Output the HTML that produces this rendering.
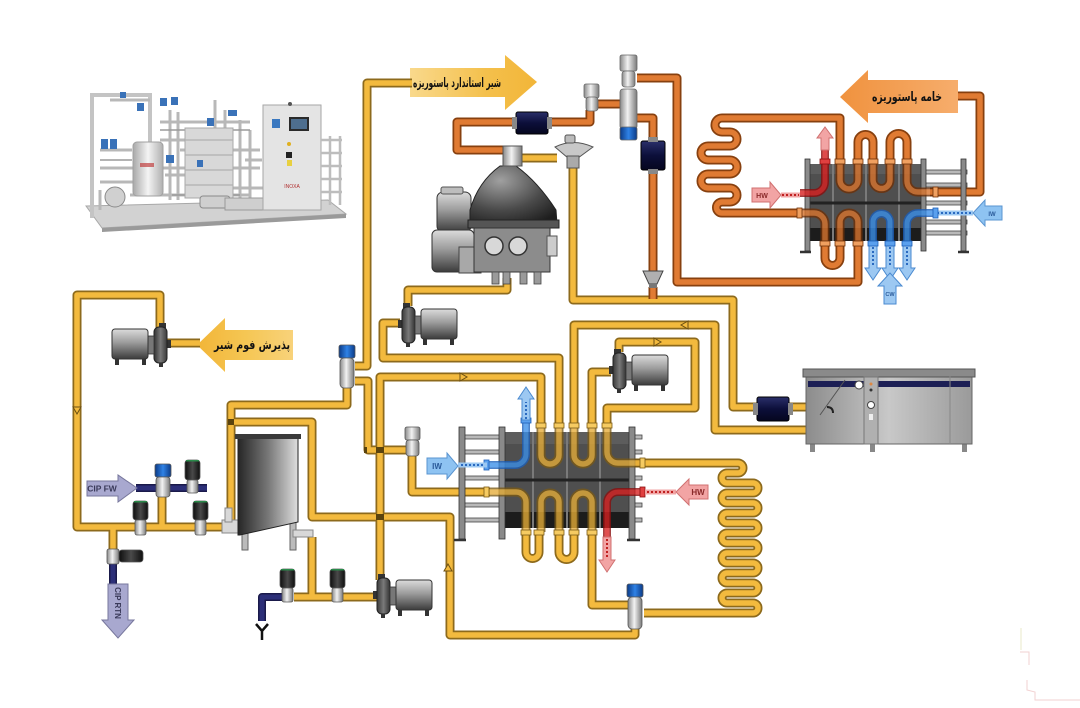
<!DOCTYPE html>
<html><head><meta charset="utf-8">
<style>
html,body{margin:0;padding:0;background:#fff;}
svg{display:block;}
</style></head>
<body>
<svg width="1080" height="708" viewBox="0 0 1080 708" xmlns="http://www.w3.org/2000/svg">
<defs>
 <linearGradient id="gMotor" x1="0" y1="0" x2="0" y2="1">
  <stop offset="0" stop-color="#dcdcdc"/><stop offset="0.45" stop-color="#9c9c9c"/><stop offset="1" stop-color="#3c3c3c"/>
 </linearGradient>
 <linearGradient id="gHead" x1="0" y1="0" x2="1" y2="0">
  <stop offset="0" stop-color="#3a3a3a"/><stop offset="0.5" stop-color="#7a7a7a"/><stop offset="1" stop-color="#333"/>
 </linearGradient>
 <linearGradient id="gTank" x1="0" y1="0" x2="1" y2="0">
  <stop offset="0" stop-color="#262626"/><stop offset="0.5" stop-color="#777"/><stop offset="1" stop-color="#dedede"/>
 </linearGradient>
 <linearGradient id="gAct" x1="0" y1="0" x2="1" y2="0">
  <stop offset="0" stop-color="#8a8a8a"/><stop offset="0.45" stop-color="#f2f2f2"/><stop offset="1" stop-color="#7a7a7a"/>
 </linearGradient>
 <linearGradient id="gBlue" x1="0" y1="0" x2="1" y2="0">
  <stop offset="0" stop-color="#0b3a86"/><stop offset="0.5" stop-color="#2f82e6"/><stop offset="1" stop-color="#0b3a86"/>
 </linearGradient>
 <linearGradient id="gBlack" x1="0" y1="0" x2="1" y2="0">
  <stop offset="0" stop-color="#0e0e0e"/><stop offset="0.5" stop-color="#4a4a4a"/><stop offset="1" stop-color="#0e0e0e"/>
 </linearGradient>
 <linearGradient id="gNavy" x1="0" y1="0" x2="0" y2="1">
  <stop offset="0" stop-color="#2a2f6a"/><stop offset="0.5" stop-color="#0c0f3a"/><stop offset="1" stop-color="#05061e"/>
 </linearGradient>
 <radialGradient id="gBowl" cx="0.35" cy="0.25" r="0.85">
  <stop offset="0" stop-color="#a0a0a0"/><stop offset="0.6" stop-color="#4a4a4a"/><stop offset="1" stop-color="#1e1e1e"/>
 </radialGradient>
 <linearGradient id="gCool" x1="0" y1="0" x2="1" y2="0">
  <stop offset="0" stop-color="#8c8c8c"/><stop offset="0.5" stop-color="#c8c8c8"/><stop offset="1" stop-color="#9a9a9a"/>
 </linearGradient>
 <linearGradient id="gY1" x1="0" y1="0" x2="1" y2="0">
  <stop offset="0" stop-color="#f9d98c"/><stop offset="0.6" stop-color="#f4c04c"/><stop offset="1" stop-color="#f2b538"/>
 </linearGradient>
 <linearGradient id="gY2" x1="0" y1="0" x2="1" y2="0">
  <stop offset="0" stop-color="#f2b538"/><stop offset="0.5" stop-color="#f5c653"/><stop offset="1" stop-color="#f8d27a"/>
 </linearGradient>
 <linearGradient id="gO" x1="0" y1="0" x2="1" y2="0">
  <stop offset="0" stop-color="#f0923e"/><stop offset="1" stop-color="#f6ad6c"/>
 </linearGradient>
 <linearGradient id="gSil" x1="0" y1="0" x2="1" y2="0">
  <stop offset="0" stop-color="#a8a8a8"/><stop offset="0.5" stop-color="#f4f4f4"/><stop offset="1" stop-color="#b0b0b0"/>
 </linearGradient>

 <g id="pump">
  <rect x="-4" y="13" width="5" height="8" fill="#333"/>
  <rect x="1" y="-4" width="7" height="5" fill="#333"/>
  <rect x="0" y="0" width="13" height="36" rx="5" fill="url(#gHead)" stroke="#222" stroke-width="1"/>
  <rect x="13" y="9" width="6" height="18" fill="#777" stroke="#333" stroke-width=".8"/>
  <rect x="19" y="2" width="36" height="30" rx="3" fill="url(#gMotor)" stroke="#333" stroke-width="1"/>
  <rect x="21" y="32" width="4" height="6" fill="#333"/>
  <rect x="48" y="32" width="4" height="6" fill="#333"/>
  <rect x="4" y="36" width="4" height="4" fill="#333"/>
 </g>
</defs>

<!-- ============ TOP-LEFT PHOTO ============ -->
<g>
 <polygon points="86,206 328,200 346,214 102,228" fill="#d2d2d2" stroke="#a8a8a8" stroke-width="1"/>
 <polygon points="102,228 346,214 346,218 102,232" fill="#9a9a9a"/>
 <rect x="90" y="94" width="4" height="124" fill="#c4c4c4"/>
 <rect x="90" y="93" width="62" height="4" fill="#c4c4c4"/>
 <rect x="148" y="93" width="4" height="50" fill="#c4c4c4"/>
 <g stroke="#b8b8b8" stroke-width="3" fill="none">
  <path d="M100,168 H260"/><path d="M100,182 H140"/><path d="M160,122 H250"/><path d="M170,110 V200"/>
  <path d="M180,150 H260"/><path d="M240,120 V200"/><path d="M250,130 V205"/><path d="M200,188 H265"/>
  <path d="M110,100 H150"/><path d="M215,100 V130"/><path d="M130,195 H250"/>
  <path d="M100,150 H132"/><path d="M178,112 V200"/><path d="M160,140 H185"/><path d="M245,160 H262"/>
  <path d="M100,190 V210"/><path d="M225,110 V200"/><path d="M165,175 H185"/>
 </g>
 <g stroke="#9a9a9a" stroke-width="1.5" fill="none">
  <path d="M160,130 H250"/><path d="M100,160 H132"/><path d="M172,195 H240"/>
 </g>
 <rect x="133" y="142" width="30" height="54" rx="4" fill="url(#gSil)" stroke="#a0a0a0"/>
 <rect x="140" y="163" width="14" height="4" fill="#c04040" opacity=".7"/>
 <rect x="185" y="128" width="48" height="70" fill="#d8d8d8" stroke="#a8a8a8"/>
 <g stroke="#b0b0b0" stroke-width="1.2"><path d="M185,140 H233"/><path d="M185,155 H233"/><path d="M185,170 H233"/><path d="M185,185 H233"/></g>
 <rect x="200" y="196" width="30" height="12" rx="3" fill="#cfcfcf" stroke="#8a8a8a"/>
 <g fill="#3a72b8">
  <rect x="101" y="139" width="7" height="10"/><rect x="110" y="139" width="7" height="10"/>
  <rect x="137" y="103" width="7" height="8"/><rect x="160" y="98" width="7" height="8"/><rect x="171" y="97" width="7" height="8"/>
  <rect x="207" y="118" width="7" height="8"/><rect x="228" y="110" width="9" height="6"/><rect x="166" y="155" width="8" height="8"/>
  <rect x="120" y="92" width="6" height="6"/><rect x="197" y="160" width="6" height="7"/>
 </g>
 <circle cx="115" cy="197" r="10" fill="#d0d0d0" stroke="#8a8a8a"/>
 <rect x="225" y="198" width="40" height="12" fill="#cfcfcf" stroke="#999"/>
 <rect x="263" y="105" width="58" height="105" fill="#e4e4e4" stroke="#a6a6a6"/>
 <rect x="289" y="117" width="20" height="14" fill="#2a2a2a"/>
 <rect x="291" y="119" width="16" height="10" fill="#4e6e8e"/>
 <rect x="272" y="119" width="8" height="9" fill="#3a78c0"/>
 <circle cx="290" cy="104" r="2" fill="#555"/>
 <circle cx="289" cy="144" r="2" fill="#e0b020"/>
 <rect x="286" y="152" width="6" height="6" fill="#222"/>
 <rect x="287" y="160" width="5" height="6" fill="#e8d040"/>
 <text x="292" y="188" font-family="Liberation Sans, sans-serif" font-size="5" fill="#b03030" text-anchor="middle">INOXA</text>
 <g stroke="#bdbdbd" stroke-width="2.5"><path d="M321,140 H342"/><path d="M321,153 H342"/><path d="M321,166 H342"/><path d="M321,179 H342"/><path d="M321,192 H342"/><path d="M330,136 V205"/><path d="M340,136 V205"/></g>
</g>

<!-- ============ ARROW LABELS ============ -->
<path d="M410,68 H505 V55 L537,82 L505,110 V97 H410 Z" fill="url(#gY1)"/>
<text x="457" y="87" font-family="DejaVu Sans, sans-serif" font-weight="bold" font-size="13" text-anchor="middle" direction="rtl" textLength="88" lengthAdjust="spacingAndGlyphs" fill="#111">شیر استاندارد پاستوریزه</text>

<path d="M840,97 L868,70 V80 H958 V113 H868 V123 Z" fill="url(#gO)"/>
<text x="907" y="101" font-family="DejaVu Sans, sans-serif" font-weight="bold" font-size="13" text-anchor="middle" direction="rtl" textLength="70" lengthAdjust="spacingAndGlyphs" fill="#111">خامه پاستوریزه</text>

<path d="M197,345 L225,318 V330 H293 V360 H225 V372 Z" fill="url(#gY2)"/>
<text x="252" y="349" font-family="DejaVu Sans, sans-serif" font-weight="bold" font-size="12.5" text-anchor="middle" direction="rtl" textLength="76" lengthAdjust="spacingAndGlyphs" fill="#111">پذیرش فوم شیر</text>

<!-- ============ PIPES ============ -->
<g fill="none" stroke-linejoin="round">
 <g stroke="#1a1a4a" stroke-width="8">
  <path d="M136,488 H207"/><path d="M113,562 V586"/><path d="M287,597 H262 V621"/>
 </g>
 <g stroke="#2c2f78" stroke-width="5">
  <path d="M136,488 H207"/><path d="M113,562 V586"/><path d="M287,597 H262 V621"/>
 </g>

 <g stroke="#8d6a1c" stroke-width="9">
  <path d="M160,328 V295 H77 V527 H224"/>
  <path d="M167,343 H200"/>
  <path d="M113,527 V550"/>
  <path d="M162,497 V527"/>
  <path d="M231,527 V405 H347 V388"/>
  <path d="M231,422 H312 V517 H450 V635 H635 V628"/>
  <path d="M412,83 H367 V366 H355"/>
  <path d="M355,381 H368 V450 H406"/>
  <path d="M380,580 V377 H541 V428"/>
  <path d="M412,456 V492 H490"/>
  <path d="M507,278 V290 H408 V306"/>
  <path d="M400,323 H383 V358 H559 V428"/>
  <path d="M520,158 H557"/>
  <path d="M573,167 V300 H733 V407 H827"/>
  <path d="M574,428 V325 H715 V430 H820 V418"/>
  <path d="M619,352 V342 H695 V408 H607 V428"/>
  <path d="M611,372 H592 V428"/>
  <path d="M632,463 H738 A5 5 0 0 1 738,473 H727 A5 5 0 0 0 727,483 H753 A5 5 0 0 1 753,493 H727 A5 5 0 0 0 727,503 H753 A5 5 0 0 1 753,513 H727 A5 5 0 0 0 727,523 H753 A5 5 0 0 1 753,533 H727 A5 5 0 0 0 727,543 H753 A5 5 0 0 1 753,553 H727 A5 5 0 0 0 727,563 H753 A5 5 0 0 1 753,573 H727 A5 5 0 0 0 727,583 H753 A5 5 0 0 1 753,593 H727 A5 5 0 0 0 727,603 H753 A5 5 0 0 1 753,613 H644"/>
  <path d="M592,530 V605 H628"/>
  <path d="M312,537 V597"/><path d="M294,597 H378"/>
  <path d="M526,530 V552 A6.5 6.5 0 0 0 539,552 V530"/>
  <path d="M559,530 V552 A7.5 7.5 0 0 0 574,552 V530"/>
 </g>
 <g stroke="#f3ba3e" stroke-width="5.5">
  <path d="M160,328 V295 H77 V527 H224"/>
  <path d="M167,343 H200"/>
  <path d="M113,527 V550"/>
  <path d="M162,497 V527"/>
  <path d="M231,527 V405 H347 V388"/>
  <path d="M231,422 H312 V517 H450 V635 H635 V628"/>
  <path d="M412,83 H367 V366 H355"/>
  <path d="M355,381 H368 V450 H406"/>
  <path d="M380,580 V377 H541 V428"/>
  <path d="M412,456 V492 H490"/>
  <path d="M507,278 V290 H408 V306"/>
  <path d="M400,323 H383 V358 H559 V428"/>
  <path d="M520,158 H557"/>
  <path d="M573,167 V300 H733 V407 H827"/>
  <path d="M574,428 V325 H715 V430 H820 V418"/>
  <path d="M619,352 V342 H695 V408 H607 V428"/>
  <path d="M611,372 H592 V428"/>
  <path d="M632,463 H738 A5 5 0 0 1 738,473 H727 A5 5 0 0 0 727,483 H753 A5 5 0 0 1 753,493 H727 A5 5 0 0 0 727,503 H753 A5 5 0 0 1 753,513 H727 A5 5 0 0 0 727,523 H753 A5 5 0 0 1 753,533 H727 A5 5 0 0 0 727,543 H753 A5 5 0 0 1 753,553 H727 A5 5 0 0 0 727,563 H753 A5 5 0 0 1 753,573 H727 A5 5 0 0 0 727,583 H753 A5 5 0 0 1 753,593 H727 A5 5 0 0 0 727,603 H753 A5 5 0 0 1 753,613 H644"/>
  <path d="M592,530 V605 H628"/>
  <path d="M312,537 V597"/><path d="M294,597 H378"/>
  <path d="M526,530 V552 A6.5 6.5 0 0 0 539,552 V530"/>
  <path d="M559,530 V552 A7.5 7.5 0 0 0 574,552 V530"/>
 </g>

 <g stroke="#87400f" stroke-width="9">
  <path d="M513,122 H457 V150 H503"/>
  <path d="M550,122 H590 V110"/>
  <path d="M598,104 H620"/>
  <path d="M637,78 H677 V282 H858 V242"/>
  <path d="M637,118 H653 V272"/><path d="M653,287 V299"/>
  <path d="M840,168 V118 H722 A7 7 0 0 0 722,132 H730 A7 7 0 0 1 730,146 H708 A7 7 0 0 0 708,160 H730 A7 7 0 0 1 730,174 H708 A7 7 0 0 0 708,188 H730 A7 7 0 0 1 730,202 H722 A5.5 5.5 0 0 0 722,213 H800"/>
  <path d="M958,96 H980 V192 H930"/>
  <path d="M858,168 V142 A7.5 7.5 0 0 1 873,142 V168"/>
  <path d="M890,168 V142 A8.5 8.5 0 0 1 907,142 V168"/>
  <path d="M825,242 V258 A7.5 7.5 0 0 0 840,258 V242"/>
 </g>
 <g stroke="#e07b33" stroke-width="5.5">
  <path d="M513,122 H457 V150 H503"/>
  <path d="M550,122 H590 V110"/>
  <path d="M598,104 H620"/>
  <path d="M637,78 H677 V282 H858 V242"/>
  <path d="M637,118 H653 V272"/><path d="M653,287 V299"/>
  <path d="M840,168 V118 H722 A7 7 0 0 0 722,132 H730 A7 7 0 0 1 730,146 H708 A7 7 0 0 0 708,160 H730 A7 7 0 0 1 730,174 H708 A7 7 0 0 0 708,188 H730 A7 7 0 0 1 730,202 H722 A5.5 5.5 0 0 0 722,213 H800"/>
  <path d="M958,96 H980 V192 H930"/>
  <path d="M858,168 V142 A7.5 7.5 0 0 1 873,142 V168"/>
  <path d="M890,168 V142 A8.5 8.5 0 0 1 907,142 V168"/>
  <path d="M825,242 V258 A7.5 7.5 0 0 0 840,258 V242"/>
 </g>
</g>

<!-- junction bands -->
<g fill="#5a430e">
 <rect x="376" y="447" width="8" height="6"/><rect x="376" y="514" width="8" height="6"/>
 <rect x="364" y="447" width="3" height="6"/><rect x="228" y="419" width="6" height="6"/>
</g>

<!-- flow markers -->
<g fill="#f3ba3e" stroke="#6b4f12" stroke-width="1">
 <path d="M460,373 L467,377 L460,381 Z"/>
 <path d="M688,321 L681,325 L688,329 Z"/>
 <path d="M654,338 L661,342 L654,346 Z"/>
 <path d="M73,407 L77,414 L81,407 Z"/>
 <path d="M444,571 L448,564 L452,571 Z"/>
</g>

<!-- ============ HX2 (middle) ============ -->
<g>
 <g fill="#b9b9b9" stroke="#444" stroke-width=".8">
  <rect x="460" y="435" width="182" height="4"/>
  <rect x="460" y="450" width="182" height="4"/>
  <rect x="460" y="476" width="182" height="4"/>
  <rect x="460" y="503" width="182" height="4"/>
  <rect x="460" y="518" width="182" height="4"/>
 </g>
 <rect x="505" y="432" width="125" height="96" fill="#4f4f4f"/>
 <rect x="505" y="432" width="125" height="12" fill="#5d5d5d"/>
 <rect x="505" y="512" width="125" height="16" fill="#1c1c1c"/>
 <g stroke="#7a7a7a" stroke-width="2"><path d="M533,432 V528"/><path d="M567,432 V528"/><path d="M600,432 V528"/></g>
 <path d="M505,480 H630" stroke="#222" stroke-width="3"/>
 <g fill="#8a8a8a" stroke="#333" stroke-width=".8">
  <rect x="459" y="427" width="6" height="112"/>
  <rect x="499" y="427" width="6" height="112"/>
  <rect x="629" y="427" width="6" height="112"/>
 </g>
 <path d="M454,540 H466 M627,540 H640" stroke="#333" stroke-width="2.5"/>
 <g fill="none" opacity=".78">
  <g stroke="#7a5a16" stroke-width="9">
   <path d="M541,428 V455 A9 9 0 0 0 559,455 V428"/>
   <path d="M574,428 V455 A9 9 0 0 0 592,455 V428"/>
   <path d="M607,428 V452 A11 11 0 0 0 618,463 H643"/>
   <path d="M487,492 H516 A10 10 0 0 1 526,502 V532"/>
   <path d="M541,532 V502 A9 9 0 0 1 559,502 V532"/>
   <path d="M574,532 V502 A9 9 0 0 1 592,502 V532"/>
  </g>
  <g stroke="#e6ad38" stroke-width="5.5">
   <path d="M541,428 V455 A9 9 0 0 0 559,455 V428"/>
   <path d="M574,428 V455 A9 9 0 0 0 592,455 V428"/>
   <path d="M607,428 V452 A11 11 0 0 0 618,463 H643"/>
   <path d="M487,492 H516 A10 10 0 0 1 526,502 V532"/>
   <path d="M541,532 V502 A9 9 0 0 1 559,502 V532"/>
   <path d="M574,532 V502 A9 9 0 0 1 592,502 V532"/>
  </g>
  <path d="M487,465 H515 A11 11 0 0 0 526,454 V420" stroke="#1d5fb8" stroke-width="8"/>
  <path d="M487,465 H515 A11 11 0 0 0 526,454 V420" stroke="#3b8fe8" stroke-width="5"/>
  <path d="M643,492 H618 A11 11 0 0 0 607,503 V537" stroke="#8a0e0e" stroke-width="8"/>
  <path d="M643,492 H618 A11 11 0 0 0 607,503 V537" stroke="#d82020" stroke-width="5"/>
 </g>
 <g fill="#f6cb62" stroke="#7a5a16" stroke-width=".8">
  <rect x="536" y="423" width="10" height="5"/><rect x="554" y="423" width="10" height="5"/><rect x="569" y="423" width="10" height="5"/><rect x="587" y="423" width="10" height="5"/><rect x="602" y="423" width="10" height="5"/>
  <rect x="521" y="530" width="10" height="5"/><rect x="534" y="530" width="10" height="5"/><rect x="554" y="530" width="10" height="5"/><rect x="569" y="530" width="10" height="5"/><rect x="587" y="530" width="10" height="5"/>
  <rect x="484" y="487" width="5" height="10"/><rect x="640" y="458" width="5" height="10"/>
 </g>
 <rect x="521" y="418" width="10" height="5" fill="#5aa0ee" stroke="#1d5fb8" stroke-width=".8"/>
 <rect x="484" y="460" width="5" height="10" fill="#5aa0ee" stroke="#1d5fb8" stroke-width=".8"/>
 <rect x="640" y="487" width="5" height="10" fill="#e04040" stroke="#8a0e0e" stroke-width=".8"/>
 <path d="M458,465 H487" stroke="#9cc8f2" stroke-width="5"/>
 <path d="M461,465 H485" stroke="#2a6ac0" stroke-width="2" stroke-dasharray="2 2"/>
 <path d="M427,458 H447 V453 L458,466 L447,479 V474 H427 Z" fill="#8ec3f2" stroke="#5a94d0"/>
 <text x="437" y="469" font-family="Liberation Sans, sans-serif" font-weight="bold" font-size="8" text-anchor="middle" fill="#2a5a9a">IW</text>
 <path d="M645,492 H676" stroke="#f0a4a4" stroke-width="5"/>
 <path d="M647,492 H674" stroke="#c02020" stroke-width="2" stroke-dasharray="2 2"/>
 <path d="M708,485 H689 V479 L676,492 L689,505 V499 H708 Z" fill="#f2a4a4" stroke="#d07070"/>
 <text x="698" y="495" font-family="Liberation Sans, sans-serif" font-weight="bold" font-size="8" text-anchor="middle" fill="#8a2a2a">HW</text>
 <path d="M522,420 V399 H518 L526,387 L534,399 H530 V420 Z" fill="#9cc8f2" stroke="#4a8ad0"/>
 <path d="M526,419 V402" stroke="#2a6ac0" stroke-width="2" stroke-dasharray="2 2"/>
 <path d="M603,537 V560 H599 L607,572 L615,560 H611 V537 Z" fill="#f2a4a4" stroke="#d07070"/>
 <path d="M607,539 V557" stroke="#c02020" stroke-width="2" stroke-dasharray="2 2"/>
</g>

<!-- ============ HX TOP-RIGHT ============ -->
<g>
 <g fill="#b9b9b9" stroke="#444" stroke-width=".8">
  <rect x="806" y="170" width="161" height="4"/>
  <rect x="806" y="183" width="161" height="4"/>
  <rect x="806" y="201" width="161" height="4"/>
  <rect x="806" y="220" width="161" height="4"/>
  <rect x="806" y="231" width="161" height="4"/>
 </g>
 <rect x="809" y="164" width="114" height="77" fill="#4f4f4f"/>
 <rect x="809" y="164" width="114" height="10" fill="#5d5d5d"/>
 <rect x="809" y="228" width="114" height="13" fill="#1c1c1c"/>
 <g stroke="#7a7a7a" stroke-width="2"><path d="M833,164 V241"/><path d="M866,164 V241"/><path d="M899,164 V241"/></g>
 <path d="M809,203 H923" stroke="#222" stroke-width="3"/>
 <g fill="#8a8a8a" stroke="#333" stroke-width=".8">
  <rect x="805" y="159" width="5" height="92"/>
  <rect x="921" y="159" width="5" height="92"/>
  <rect x="961" y="159" width="5" height="92"/>
 </g>
 <path d="M800,252 H811 M958,252 H969" stroke="#333" stroke-width="2.5"/>
 <g fill="none" opacity=".8">
  <g stroke="#6e3008" stroke-width="9">
   <path d="M840,164 V180 A9 9 0 0 0 858,180 V164"/>
   <path d="M873,164 V180 A8.5 8.5 0 0 0 890,180 V164"/>
   <path d="M907,164 V181 A11 11 0 0 0 918,192 H935"/>
   <path d="M800,213 H814 A11 11 0 0 1 825,224 V245"/>
   <path d="M840,245 V222 A9 9 0 0 1 858,222 V245"/>
  </g>
  <g stroke="#d8742e" stroke-width="5.5">
   <path d="M840,164 V180 A9 9 0 0 0 858,180 V164"/>
   <path d="M873,164 V180 A8.5 8.5 0 0 0 890,180 V164"/>
   <path d="M907,164 V181 A11 11 0 0 0 918,192 H935"/>
   <path d="M800,213 H814 A11 11 0 0 1 825,224 V245"/>
   <path d="M840,245 V222 A9 9 0 0 1 858,222 V245"/>
  </g>
  <g stroke="#1d5fb8" stroke-width="8">
   <path d="M873,245 V222 A8.5 8.5 0 0 1 890,222 V245"/>
   <path d="M935,213 H918 A11 11 0 0 0 907,224 V245"/>
  </g>
  <g stroke="#3b8fe8" stroke-width="5">
   <path d="M873,245 V222 A8.5 8.5 0 0 1 890,222 V245"/>
   <path d="M935,213 H918 A11 11 0 0 0 907,224 V245"/>
  </g>
  <path d="M800,193 H814 A11 11 0 0 0 825,182 V150" stroke="#8a0e0e" stroke-width="8"/>
  <path d="M800,193 H814 A11 11 0 0 0 825,182 V150" stroke="#d82020" stroke-width="5"/>
 </g>
 <path d="M781,195 H800" stroke="#f0a4a4" stroke-width="5"/>
 <path d="M782,195 H799" stroke="#c02020" stroke-width="2" stroke-dasharray="2 2"/>
 <path d="M752,188 H770 V182 L781,195 L770,208 V202 H752 Z" fill="#f2a4a4" stroke="#d07070"/>
 <text x="762" y="198" font-family="Liberation Sans, sans-serif" font-weight="bold" font-size="7" text-anchor="middle" fill="#8a2a2a">HW</text>
 <path d="M821,150 V138 H817 L825,127 L833,138 H829 V150 Z" fill="#f2a4a4" stroke="#d07070"/>
 <path d="M935,213 H973" stroke="#9cc8f2" stroke-width="5"/>
 <path d="M937,213 H971" stroke="#2a6ac0" stroke-width="2" stroke-dasharray="2 2"/>
 <path d="M1002,206 H985 V200 L973,213 L985,226 V220 H1002 Z" fill="#8ec3f2" stroke="#5a94d0"/>
 <text x="992" y="216" font-family="Liberation Sans, sans-serif" font-weight="bold" font-size="6" text-anchor="middle" fill="#2a5a9a">IW</text>
 <g fill="#9cc8f2" stroke="#4a8ad0">
  <path d="M869,245 V268 H865 L873,280 L881,268 H877 V245 Z"/>
  <path d="M886,245 V268 H882 L890,280 L898,268 H894 V245 Z"/>
  <path d="M903,245 V268 H899 L907,280 L915,268 H911 V245 Z"/>
  <path d="M884,304 V286 H878 L890,273 L902,286 H896 V304 Z"/>
 </g>
 <g stroke="#2a6ac0" stroke-width="2" stroke-dasharray="2 2"><path d="M873,247 V266"/><path d="M890,247 V266"/><path d="M907,247 V266"/></g>
 <text x="890" y="296" font-family="Liberation Sans, sans-serif" font-weight="bold" font-size="5.5" text-anchor="middle" fill="#2a5a9a">CW</text>
 <g fill="#f0a060" stroke="#6e3008" stroke-width=".8">
  <rect x="835" y="159" width="10" height="5"/><rect x="853" y="159" width="10" height="5"/><rect x="868" y="159" width="10" height="5"/><rect x="885" y="159" width="10" height="5"/><rect x="902" y="159" width="10" height="5"/>
  <rect x="820" y="241" width="10" height="5"/><rect x="835" y="241" width="10" height="5"/><rect x="853" y="241" width="10" height="5"/>
  <rect x="797" y="208" width="5" height="10"/><rect x="933" y="187" width="5" height="10"/>
 </g>
 <g fill="#5aa0ee" stroke="#1d5fb8" stroke-width=".8"><rect x="868" y="241" width="10" height="5"/><rect x="885" y="241" width="10" height="5"/><rect x="902" y="241" width="10" height="5"/><rect x="933" y="208" width="5" height="10"/></g>
 <rect x="820" y="159" width="10" height="5" fill="#e04040" stroke="#8a0e0e" stroke-width=".8"/>
</g>

<!-- ============ SEPARATOR ============ -->
<g>
 <rect x="437" y="192" width="34" height="40" rx="6" fill="url(#gMotor)" stroke="#333"/>
 <rect x="441" y="187" width="22" height="7" rx="2" fill="#bdbdbd" stroke="#555"/>
 <path d="M470,224 L470,210 Q478,182 500,166 L516,166 Q538,182 556,210 L557,224 Z" fill="url(#gBowl)" stroke="#222"/>
 <rect x="468" y="220" width="91" height="8" fill="#555" stroke="#222"/>
 <rect x="432" y="230" width="42" height="42" rx="5" fill="url(#gMotor)" stroke="#333"/>
 <rect x="459" y="247" width="22" height="26" fill="#a8a8a8" stroke="#444"/>
 <rect x="474" y="228" width="76" height="44" fill="#8c8c8c" stroke="#333"/>
 <circle cx="494" cy="246" r="9" fill="#d8d8d8" stroke="#333" stroke-width="1.5"/>
 <circle cx="518" cy="246" r="9" fill="#d8d8d8" stroke="#333" stroke-width="1.5"/>
 <rect x="547" y="236" width="10" height="20" fill="#ccc" stroke="#555"/>
 <g fill="#9a9a9a" stroke="#444" stroke-width=".8"><rect x="492" y="272" width="7" height="12"/><rect x="503" y="272" width="7" height="12"/><rect x="520" y="272" width="7" height="12"/><rect x="534" y="272" width="7" height="12"/></g>
 <rect x="503" y="146" width="19" height="20" fill="url(#gAct)" stroke="#555"/>
 <path d="M555,147 Q573,138 593,147 L578,158 L568,158 Z" fill="#c8c8c8" stroke="#555"/>
 <rect x="565" y="135" width="10" height="8" rx="2" fill="#bbb" stroke="#555"/>
 <rect x="567" y="156" width="12" height="12" fill="#aaa" stroke="#555"/>
</g>

<!-- filters -->
<g>
 <rect x="516" y="112" width="32" height="22" rx="2" fill="url(#gNavy)" stroke="#000"/>
 <rect x="512" y="117" width="5" height="12" fill="#888"/><rect x="547" y="117" width="5" height="12" fill="#888"/>
 <rect x="641" y="141" width="24" height="29" rx="2" fill="url(#gNavy)" stroke="#000"/>
 <rect x="648" y="137" width="10" height="5" fill="#888"/><rect x="648" y="169" width="10" height="5" fill="#888"/>
 <rect x="757" y="397" width="32" height="24" rx="2" fill="url(#gNavy)" stroke="#000"/>
 <rect x="753" y="403" width="5" height="12" fill="#888"/><rect x="788" y="403" width="5" height="12" fill="#888"/>
 <path d="M643,271 H663 L657,284 H649 Z" fill="#b0b0b0" stroke="#444"/>
 <rect x="649" y="284" width="8" height="4" fill="#777"/>
</g>

<!-- top center valves -->
<g stroke="#666" stroke-width=".8">
 <rect x="620" y="55" width="17" height="16" rx="2" fill="url(#gAct)"/>
 <rect x="622" y="71" width="13" height="16" rx="3" fill="url(#gAct)"/>
 <rect x="620" y="89" width="17" height="40" rx="3" fill="url(#gAct)"/>
 <rect x="620" y="127" width="17" height="13" rx="2" fill="url(#gBlue)"/>
 <rect x="584" y="84" width="15" height="14" rx="2" fill="url(#gAct)"/>
 <rect x="586" y="97" width="12" height="14" rx="3" fill="url(#gAct)"/>
</g>

<!-- ============ PUMPS ============ -->
<use href="#pump" transform="translate(167,327) scale(-1,1)"/>
<use href="#pump" transform="translate(402,307)"/>
<use href="#pump" transform="translate(613,353)"/>
<use href="#pump" transform="translate(377,578)"/>

<!-- ============ VALVES ============ -->
<g stroke="#555" stroke-width=".8">
 <rect x="339" y="345" width="16" height="13" rx="2" fill="url(#gBlue)"/>
 <rect x="340" y="358" width="14" height="30" rx="4" fill="url(#gAct)"/>
 <rect x="405" y="427" width="15" height="13" rx="2" fill="url(#gAct)"/>
 <rect x="406" y="440" width="13" height="16" rx="3" fill="url(#gAct)"/>
 <rect x="627" y="584" width="16" height="13" rx="2" fill="url(#gBlue)"/>
 <rect x="628" y="597" width="14" height="32" rx="4" fill="url(#gAct)"/>
 <rect x="155" y="464" width="16" height="13" rx="2" fill="url(#gBlue)"/>
 <rect x="156" y="477" width="14" height="20" rx="3" fill="url(#gAct)"/>
 <rect x="185" y="460" width="15" height="20" rx="3" fill="url(#gBlack)"/>
 <rect x="187" y="480" width="11" height="13" rx="2" fill="url(#gAct)"/>
 <rect x="133" y="501" width="15" height="19" rx="3" fill="url(#gBlack)"/>
 <rect x="135" y="520" width="11" height="15" rx="2" fill="url(#gAct)"/>
 <rect x="193" y="501" width="15" height="19" rx="3" fill="url(#gBlack)"/>
 <rect x="195" y="520" width="11" height="15" rx="2" fill="url(#gAct)"/>
 <rect x="107" y="549" width="12" height="15" rx="2" fill="url(#gAct)"/>
 <rect x="119" y="550" width="24" height="12" rx="3" fill="url(#gBlack)"/>
 <rect x="280" y="569" width="15" height="19" rx="3" fill="url(#gBlack)"/>
 <rect x="282" y="588" width="11" height="14" rx="2" fill="url(#gAct)"/>
 <rect x="330" y="569" width="15" height="19" rx="3" fill="url(#gBlack)"/>
 <rect x="332" y="588" width="11" height="14" rx="2" fill="url(#gAct)"/>
</g>
<g fill="#2a8a4a"><rect x="186" y="460" width="13" height="1.5"/><rect x="134" y="501" width="13" height="1.5"/><rect x="194" y="501" width="13" height="1.5"/><rect x="281" y="569" width="13" height="1.5"/><rect x="331" y="569" width="13" height="1.5"/></g>

<path d="M256,624 L262,631 L268,624 M262,631 V640" stroke="#111" stroke-width="2.5" fill="none"/>

<!-- CIP arrows -->
<path d="M87,481 H118 V475 L137,488 L118,502 V496 H87 Z" fill="#a8a8cf" stroke="#77779c"/>
<text x="102" y="491.5" font-family="Liberation Sans, sans-serif" font-weight="bold" font-size="8.5" text-anchor="middle" fill="#3a3a5a">CIP FW</text>
<path d="M108,584 H128 V620 H134 L118,638 L102,620 H108 Z" fill="#a8a8cf" stroke="#77779c"/>
<text x="118" y="603" transform="rotate(90 118 603)" dy="3" font-family="Liberation Sans, sans-serif" font-weight="bold" font-size="8" text-anchor="middle" fill="#3a3a5a">CIP RTN</text>

<!-- ============ TANK (left) ============ -->
<rect x="222" y="520" width="16" height="13" fill="#d8d8d8" stroke="#888"/>
<rect x="225" y="508" width="7" height="14" fill="#d8d8d8" stroke="#888"/>
<rect x="242" y="528" width="6" height="22" fill="#bbb" stroke="#666"/>
<rect x="290" y="522" width="6" height="28" fill="#bbb" stroke="#666"/>
<path d="M238,438 H298 V522 L240,535 L238,535 Z" fill="url(#gTank)" stroke="#222"/>
<rect x="235" y="434" width="66" height="5" fill="#3a3a3a"/>
<rect x="293" y="530" width="20" height="7" fill="#d8d8d8" stroke="#888"/>

<!-- ============ COOLING TANK (right) ============ -->
<g>
 <rect x="810" y="440" width="5" height="12" fill="#888"/><rect x="870" y="440" width="5" height="12" fill="#888"/><rect x="962" y="440" width="5" height="12" fill="#888"/>
 <rect x="806" y="376" width="166" height="68" fill="url(#gCool)" stroke="#666"/>
 <rect x="803" y="369" width="172" height="8" fill="#8a8a8a" stroke="#555"/>
 <rect x="808" y="381" width="162" height="6" fill="#1c1f55"/>
 <rect x="864" y="377" width="14" height="67" fill="#b0b0b0" stroke="#777"/>
 <circle cx="859" cy="385" r="4" fill="#fff" stroke="#444"/>
 <circle cx="871" cy="405" r="3.5" fill="#fff" stroke="#444"/>
 <circle cx="871" cy="384" r="1.5" fill="#d84"/><circle cx="871" cy="390" r="1.5" fill="#333"/>
 <rect x="869" y="414" width="4" height="6" fill="#eee"/>
 <path d="M820,415 L845,380" stroke="#555" stroke-width="1"/>
 <path d="M950,376 V444" stroke="#888" stroke-width="1"/>
</g>
<path d="M827,407 Q833,407 833,413" stroke="#222" stroke-width="2" fill="none"/>

<g stroke="#f0c8c8" stroke-width="1" fill="none" opacity=".8">
 <path d="M1020,652 H1029 V665"/>
 <path d="M1027,680 V690 L1035,692 V700 H1080"/>
</g>
<path d="M1021,628 V650" stroke="#eaeac8" stroke-width="1"/>
</svg>
</body></html>
